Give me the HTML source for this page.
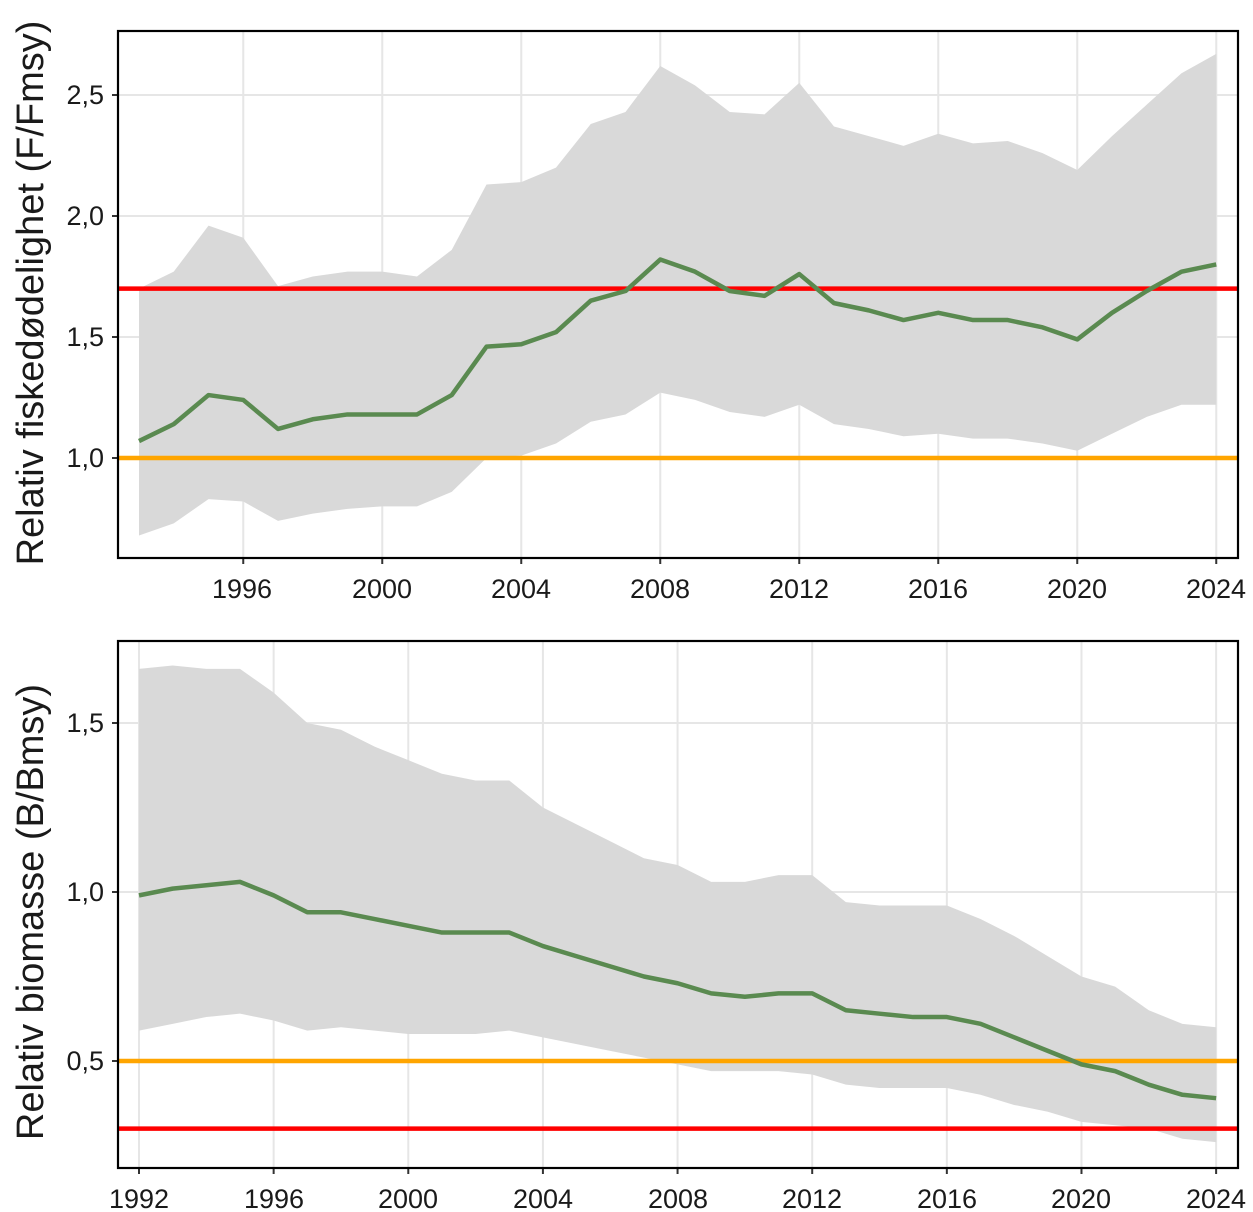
<!DOCTYPE html><html><head><meta charset="utf-8"><style>body{margin:0;background:#fff}svg{display:block}text{font-family:"Liberation Sans",sans-serif;fill:#1a1a1a}</style></head><body>
<svg id="s" width="1253" height="1212" viewBox="0 0 1253 1212">
<g id="g"></g>
<g font-size="27" text-anchor="middle">
<text x="242" y="598">1996</text>
<text x="382" y="598">2000</text>
<text x="521" y="598">2004</text>
<text x="660" y="598">2008</text>
<text x="799" y="598">2012</text>
<text x="938" y="598">2016</text>
<text x="1077" y="598">2020</text>
<text x="1216" y="598">2024</text>
<text x="139" y="1208">1992</text>
<text x="274" y="1208">1996</text>
<text x="408" y="1208">2000</text>
<text x="543" y="1208">2004</text>
<text x="678" y="1208">2008</text>
<text x="812" y="1208">2012</text>
<text x="947" y="1208">2016</text>
<text x="1081" y="1208">2020</text>
<text x="1216" y="1208">2024</text>
</g>
<g font-size="27" text-anchor="end">
<text x="104" y="104">2,5</text>
<text x="104" y="225">2,0</text>
<text x="104" y="346">1,5</text>
<text x="104" y="467">1,0</text>
<text x="104" y="732">1,5</text>
<text x="104" y="901">1,0</text>
<text x="104" y="1070">0,5</text>
</g>
<text transform="translate(43,293) rotate(-90)" font-size="38" text-anchor="middle">Relativ fiskedødelighet (F/Fmsy)</text>
<text transform="translate(43,912) rotate(-90)" font-size="38" text-anchor="middle">Relativ biomasse (B/Bmsy)</text>
</svg>
<script>
var g=document.getElementById('g'),h='';
function panel(x0,yrs,mx,my,line,up,lo,ref,top,bot,xt,yt){
 var X=function(y){return x0+(y-yrs)*mx},Y=function(v){return my[0]+(v-my[1])*my[2]};
 h+='<rect x="118" y="'+top+'" width="1120" height="'+(bot-top)+'" fill="#fff"/>';
 xt.forEach(function(t){h+='<line x1="'+X(t)+'" x2="'+X(t)+'" y1="'+top+'" y2="'+bot+'" stroke="#e6e6e6" stroke-width="2"/><line x1="'+X(t)+'" x2="'+X(t)+'" y1="'+bot+'" y2="'+(bot+6)+'" stroke="#333" stroke-width="2"/>'});
 yt.forEach(function(t){h+='<line x1="118" x2="1238" y1="'+Y(t)+'" y2="'+Y(t)+'" stroke="#e6e6e6" stroke-width="2"/><line x1="112" x2="118" y1="'+Y(t)+'" y2="'+Y(t)+'" stroke="#333" stroke-width="2"/>'});
 var p='';up.forEach(function(v,i){p+=(i?'L':'M')+X(yrs+i)+','+Y(v)});
 for(var i=lo.length-1;i>=0;i--)p+='L'+X(yrs+i)+','+Y(lo[i]);
 h+='<path d="'+p+'Z" fill="#d9d9d9"/>';
 ref.forEach(function(r){h+='<line x1="118" x2="1238" y1="'+Y(r[0])+'" y2="'+Y(r[0])+'" stroke="'+r[1]+'" stroke-width="4.5"/>'});
 var q='';line.forEach(function(v,i){q+=(i?'L':'M')+X(yrs+i)+','+Y(v)});
 h+='<path d="'+q+'" fill="none" stroke="#5a8a50" stroke-width="4.5" stroke-linejoin="round"/>';
 h+='<rect x="118" y="'+top+'" width="1120" height="'+(bot-top)+'" fill="none" stroke="#000" stroke-width="2.2"/>';
}
panel(139,1993,34.75,[458,1,-242],
[1.07,1.14,1.26,1.24,1.12,1.16,1.18,1.18,1.18,1.26,1.46,1.47,1.52,1.65,1.69,1.82,1.77,1.69,1.67,1.76,1.64,1.61,1.57,1.60,1.57,1.57,1.54,1.49,1.60,1.69,1.77,1.80],
[1.70,1.77,1.96,1.91,1.71,1.75,1.77,1.77,1.75,1.86,2.13,2.14,2.20,2.38,2.43,2.62,2.54,2.43,2.42,2.55,2.37,2.33,2.29,2.34,2.30,2.31,2.26,2.19,2.33,2.46,2.59,2.67],
[0.68,0.73,0.83,0.82,0.74,0.77,0.79,0.80,0.80,0.86,1.00,1.01,1.06,1.15,1.18,1.27,1.24,1.19,1.17,1.22,1.14,1.12,1.09,1.10,1.08,1.08,1.06,1.03,1.10,1.17,1.22,1.22],
[[1.7,'#f00'],[1.0,'#ffa500']],31,558,[1996,2000,2004,2008,2012,2016,2020,2024],[1,1.5,2,2.5]);
panel(139,1992,33.66,[892,1,-338],
[0.99,1.01,1.02,1.03,0.99,0.94,0.94,0.92,0.90,0.88,0.88,0.88,0.84,0.81,0.78,0.75,0.73,0.70,0.69,0.70,0.70,0.65,0.64,0.63,0.63,0.61,0.57,0.53,0.49,0.47,0.43,0.40,0.39],
[1.66,1.67,1.66,1.66,1.59,1.50,1.48,1.43,1.39,1.35,1.33,1.33,1.25,1.20,1.15,1.10,1.08,1.03,1.03,1.05,1.05,0.97,0.96,0.96,0.96,0.92,0.87,0.81,0.75,0.72,0.65,0.61,0.60],
[0.59,0.61,0.63,0.64,0.62,0.59,0.60,0.59,0.58,0.58,0.58,0.59,0.57,0.55,0.53,0.51,0.49,0.47,0.47,0.47,0.46,0.43,0.42,0.42,0.42,0.40,0.37,0.35,0.32,0.31,0.30,0.27,0.26],
[[0.5,'#ffa500'],[0.3,'#f00']],641,1168,[1992,1996,2000,2004,2008,2012,2016,2020,2024],[0.5,1,1.5]);
g.innerHTML=h;
</script>
</body></html>
